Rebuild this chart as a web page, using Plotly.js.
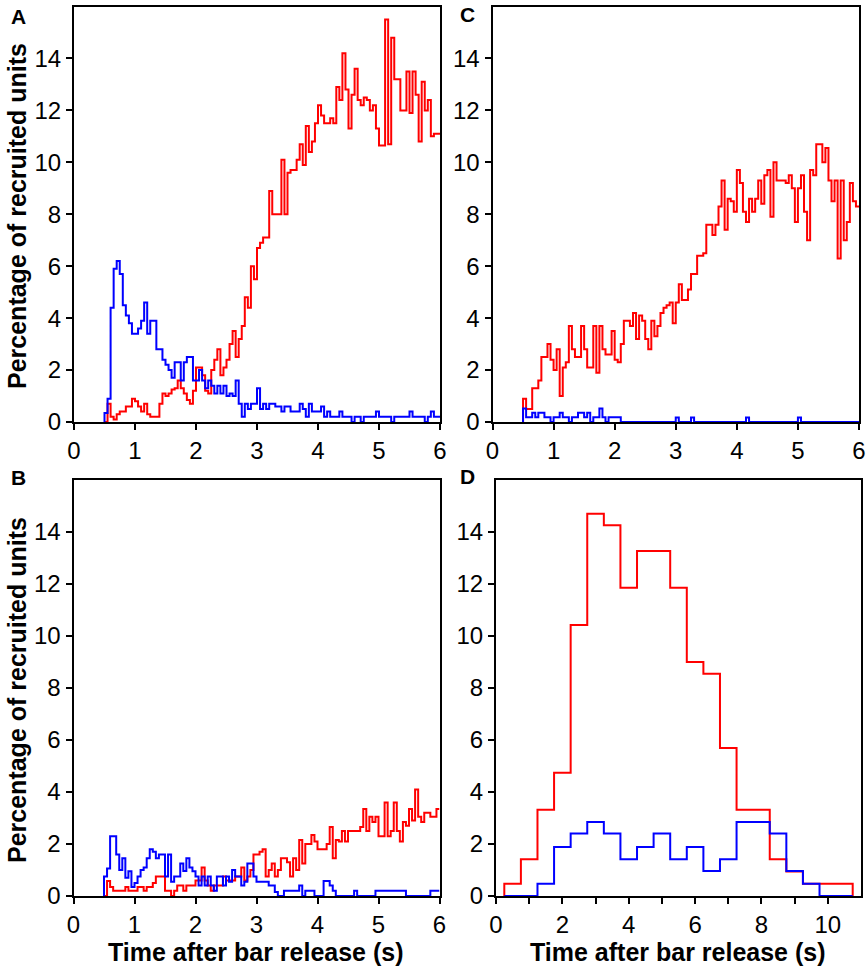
<!DOCTYPE html>
<html>
<head>
<meta charset="utf-8">
<script src="https://cdn.plot.ly/plotly-3.0.1.min.js"></script>
<style>
  html, body { margin: 0; padding: 0; background: #fff; }
  #chart { width: 866px; height: 967px; }
</style>
</head>
<body>
<div id="chart"></div>
<script>
// fine bins for panels A, B, C (seconds)
const fineStart = 0.5
const fineBin = 0.05
// coarse bins for panel D (seconds)
const coarseStart = 0.25
const coarseBin = 0.5

// panel A
const aRed = [0, 0.7, 0.2, 0.1, 0.3, 0.4, 0.4, 0.6, 0.6, 0.9,
    0.8, 0.6, 0.4, 0.7, 0.3, 0.2, 0.2, 0.2, 0.7, 1.1,
    1.0, 1.1, 1.25, 1.3, 1.6, 1.3, 1.1, 0.85, 0.7, 1.2,
    2.1, 2.1, 1.8, 1.2, 1.1, 2.0, 2.4, 2.8, 1.8, 2.1,
    2.4, 3.0, 3.5, 2.5, 3.2, 3.7, 4.8, 4.4, 6.0, 5.5,
    6.7, 6.9, 7.1, 7.1, 8.9, 8.0, 8.0, 8.0, 10.1, 8.0,
    9.6, 9.7, 9.7, 10.1, 10.7, 9.9, 11.4, 10.4, 10.8, 11.5,
    12.2, 11.8, 11.5, 11.5, 11.7, 11.5, 12.9, 12.4, 14.2, 12.8,
    11.3, 12.6, 13.6, 12.4, 12.2, 12.5, 12.4, 12.0, 12.2, 11.3,
    10.65, 10.65, 15.5, 10.7, 14.8, 13.2, 13.2, 12.0, 12.0, 13.5,
    11.9, 13.5, 12.6, 10.8, 13.1, 12.0, 12.4, 11.0, 11.1, 11.1]
const aBlue = [0.35, 0.9, 4.4, 5.9, 6.2, 5.7, 4.5, 4.1, 3.8, 3.4,
    3.4, 3.6, 3.9, 4.6, 3.4, 3.9, 3.9, 2.8, 2.8, 2.4,
    2.2, 2.0, 1.7, 2.3, 2.3, 1.6, 2.3, 2.5, 2.5, 1.6,
    1.6, 2.0, 1.6, 1.3, 1.6, 1.4, 1.1, 1.4, 1.1, 1.4,
    1.0, 1.1, 1.0, 1.6, 0.7, 0.2, 0.7, 0.5, 0.7, 0.7,
    1.3, 0.5, 0.7, 0.5, 0.7, 0.7, 0.6, 0.6, 0.4, 0.6,
    0.6, 0.4, 0.4, 0.4, 0.7, 0.5, 0.2, 0.7, 0.4, 0.4,
    0.4, 0.6, 0.2, 0.4, 0.2, 0.2, 0.2, 0.4, 0.2, 0.2,
    0.2, 0, 0.2, 0.2, 0, 0.2, 0.2, 0.2, 0.2, 0.4,
    0.2, 0.2, 0.2, 0.2, 0, 0.2, 0.2, 0.2, 0.2, 0.2,
    0.4, 0.2, 0.2, 0.2, 0.2, 0, 0.2, 0.4, 0.2, 0.2]

// panel B
const bRed = [0, 0.58, 0.35, 0.2, 0.2, 0.2, 0.2, 0.35, 0.2, 0.2,
    0.2, 0.35, 0.35, 0.2, 0.35, 0.35, 0.5, 0.75, 0.75, 0.75,
    0.2, 0.2, 0, 0.2, 0.4, 0.4, 0.2, 0.4, 0.4, 0.4,
    0.6, 0.6, 1.1, 0.6, 0.4, 0.2, 0.4, 0.4, 0.4, 0.75,
    0.6, 0.6, 0.6, 0.75, 0.75, 1.1, 0.6, 0.75, 1.0, 1.6,
    1.6, 1.7, 1.8, 0.75, 1.0, 1.25, 0.75, 1.0, 1.45, 1.45,
    1.3, 0.75, 1.45, 1.0, 2.15, 1.25, 2.0, 2.0, 2.35, 2.1,
    1.8, 1.8, 1.8, 2.0, 2.65, 1.45, 2.15, 2.1, 2.5, 2.1,
    2.5, 2.5, 2.5, 2.5, 2.65, 3.35, 2.5, 3.05, 2.85, 3.05,
    2.3, 2.3, 3.6, 2.3, 2.5, 3.6, 2.5, 2.1, 2.85, 2.7,
    3.35, 2.9, 4.1, 3.05, 2.85, 3.2, 3.2, 3.05, 3.05, 3.35]
const bBlue = [0.75, 1.06, 2.3, 2.3, 1.6, 1.0, 1.45, 0.7, 0.95, 0.35,
    0.5, 0.75, 1.0, 1.1, 1.45, 1.8, 1.7, 1.45, 1.6, 1.6,
    0.75, 1.6, 0.55, 0.75, 0.75, 1.25, 0.96, 1.45, 1.1, 0.95,
    0.75, 0.4, 0.75, 0.4, 0.75, 0.4, 0.2, 0.75, 0.75, 0.4,
    0.75, 0.55, 1.0, 0.75, 0.75, 0.4, 0.55, 1.25, 1.25, 0.75,
    0.55, 0.55, 0.55, 0.55, 0.4, 0.4, 0.15, 0, 0, 0.2,
    0.2, 0.2, 0.2, 0.2, 0.4, 0, 0.2, 0.2, 0.2, 0,
    0, 0, 0.58, 0.58, 0.4, 0.2, 0, 0, 0, 0,
    0, 0, 0.2, 0, 0, 0, 0, 0, 0, 0.2,
    0.2, 0.2, 0.2, 0.2, 0.2, 0.2, 0.2, 0.2, 0.2, 0,
    0, 0, 0, 0, 0, 0, 0, 0.2, 0.2, 0.2]

// panel C
const cRed = [0.9, 0.5, 0.5, 1.3, 1.3, 1.6, 2.5, 2.5, 3.0, 2.4,
    2.0, 2.8, 1.0, 2.1, 2.3, 3.7, 2.8, 2.5, 2.5, 3.7,
    2.8, 2.1, 2.1, 3.7, 1.9, 3.7, 2.8, 2.6, 2.6, 3.5,
    2.4, 2.3, 3.0, 3.9, 3.9, 3.7, 4.2, 3.2, 4.1, 3.9,
    3.2, 2.8, 3.9, 3.3, 3.7, 4.2, 4.4, 4.5, 4.6, 3.8,
    4.6, 5.3, 4.7, 4.7, 5.1, 5.7, 5.7, 6.4, 6.4, 6.5,
    7.6, 7.6, 7.2, 7.6, 8.3, 9.3, 7.4, 8.6, 8.5, 8.1,
    9.7, 9.2, 8.1, 7.7, 8.6, 8.1, 8.6, 9.3, 8.4, 9.5,
    9.7, 7.9, 10.0, 9.3, 9.3, 9.3, 9.2, 9.5, 9.0, 7.7,
    9.0, 9.5, 8.1, 7.0, 9.7, 9.5, 10.7, 10.7, 10.0, 10.55,
    9.3, 8.5, 9.3, 6.3, 9.3, 7.0, 7.7, 9.2, 8.5, 8.3]
const cBlue = [0.52, 0.18, 0.18, 0.36, 0.18, 0.36, 0.36, 0.18, 0.18, 0,
    0.18, 0.18, 0.36, 0.18, 0.18, 0, 0.18, 0.18, 0.36, 0.36,
    0.18, 0.36, 0, 0.18, 0.18, 0.52, 0.18, 0, 0.18, 0.18,
    0.18, 0.18, 0, 0, 0, 0, 0, 0, 0, 0,
    0, 0, 0, 0, 0, 0, 0, 0, 0, 0,
    0.17, 0, 0, 0, 0, 0.17, 0, 0, 0, 0,
    0, 0, 0, 0, 0, 0, 0, 0, 0, 0,
    0, 0, 0, 0.17, 0, 0, 0, 0, 0, 0,
    0, 0, 0, 0, 0, 0, 0, 0, 0, 0,
    0.17, 0, 0, 0, 0, 0, 0, 0, 0, 0,
    0, 0, 0, 0, 0, 0, 0, 0, 0, 0]

// panel D
const dRed = [0.47, 1.41, 3.32, 4.74, 10.42, 14.7, 14.26, 11.86, 13.27, 13.27,
    11.86, 9.0, 8.55, 5.69, 3.32, 3.32, 1.41, 0.94, 0.47, 0.47, 0.47]
const dBlue = [0, 0, 0.47, 1.88, 2.4, 2.85, 2.4, 1.41, 1.88, 2.4,
    1.41, 1.88, 0.96, 1.41, 2.85, 2.85, 2.4, 0.96, 0.47, 0, 0]

const yTicks = [0, 2, 4, 6, 8, 10, 12, 14]

window.addEventListener('DOMContentLoaded', () => {
    plotFigure()
})

// outline of a histogram; closeEnd drops the line back to zero after the last bin
function steps(start, width, vals, closeEnd) {
    let x = [start]
    let y = [0]
    vals.forEach((v, i) => {
        x.push(start + i * width)
        y.push(v)
    })
    x.push(start + vals.length * width)
    y.push(closeEnd ? 0 : vals[vals.length - 1])
    return {x: x, y: y}
}

function trace(start, width, vals, color, xa, ya, closeEnd) {
    const s = steps(start, width, vals, closeEnd)
    return {
        type: 'scatter',
        mode: 'lines',
        x: s.x,
        y: s.y,
        line: {shape: 'hv', color: color, width: 2},
        xaxis: xa,
        yaxis: ya,
        hoverinfo: 'skip'
    }
}

function plotFigure() {
    const red = '#ff0000'
    const blue = '#0000ff'
    const font = 'Liberation Sans, Arial, sans-serif'

    const data = [
        trace(fineStart, fineBin, aRed, red, 'x', 'y', false),
        trace(fineStart, fineBin, aBlue, blue, 'x', 'y', false),
        trace(fineStart, fineBin, cRed, red, 'x2', 'y2', false),
        trace(fineStart, fineBin, cBlue, blue, 'x2', 'y2', false),
        trace(fineStart, fineBin, bRed, red, 'x3', 'y3', false),
        trace(fineStart, fineBin, bBlue, blue, 'x3', 'y3', false),
        trace(coarseStart, coarseBin, dRed, red, 'x4', 'y4', true),
        trace(coarseStart, coarseBin, dBlue, blue, 'x4', 'y4', true)
    ]

    const W = 866
    const H = 967
    const px = v => v / W
    const py = v => 1 - v / H

    const common = {
        showline: true,
        linecolor: '#000',
        linewidth: 2,
        mirror: true,
        ticks: 'outside',
        ticklen: 6,
        tickwidth: 2,
        tickcolor: '#000',
        showgrid: false,
        zeroline: false,
        fixedrange: true,
        layer: 'above traces',
        tickfont: {family: font, size: 24, color: '#000'}
    }
    const xFine = Object.assign({}, common, {range: [0, 6], tickvals: [0, 1, 2, 3, 4, 5, 6]})
    const yAxis = Object.assign({}, common, {range: [0, 16], tickvals: yTicks})

    const layout = {
        width: W,
        height: H,
        margin: {l: 0, r: 0, t: 0, b: 0},
        paper_bgcolor: '#fff',
        plot_bgcolor: '#fff',
        showlegend: false,
        xaxis: Object.assign({}, xFine, {domain: [px(74), px(440)], anchor: 'y'}),
        yaxis: Object.assign({}, yAxis, {domain: [py(422), py(6.5)], anchor: 'x'}),
        xaxis2: Object.assign({}, xFine, {domain: [px(492.5), px(859)], anchor: 'y2'}),
        yaxis2: Object.assign({}, yAxis, {domain: [py(422), py(6.5)], anchor: 'x2'}),
        xaxis3: Object.assign({}, xFine, {domain: [px(73.5), px(439.5)], anchor: 'y3'}),
        yaxis3: Object.assign({}, yAxis, {domain: [py(896), py(480)], anchor: 'x3'}),
        xaxis4: Object.assign({}, common, {
            domain: [px(496), px(861)], anchor: 'y4',
            range: [0, 11], tickvals: [0, 2, 4, 6, 8, 10],
            minor: {tickvals: [1, 3, 5, 7, 9], ticks: 'outside', ticklen: 6, tickwidth: 2, tickcolor: '#000'}
        }),
        yaxis4: Object.assign({}, yAxis, {domain: [py(896), py(480)], anchor: 'x4'}),
        annotations: [
            {text: '<b>A</b>', x: px(18), y: py(16)},
            {text: '<b>C</b>', x: px(467), y: py(14)},
            {text: '<b>B</b>', x: px(18), y: py(477)},
            {text: '<b>D</b>', x: px(467), y: py(476)},
        ].map(a => Object.assign(a, {
            xref: 'paper', yref: 'paper', showarrow: false,
            xanchor: 'center', yanchor: 'middle',
            font: {family: font, size: 21, color: '#000'}
        })).concat([
            {text: '<b>Percentage of recruited units</b>', x: px(17), y: py(216), textangle: -90},
            {text: '<b>Percentage of recruited units</b>', x: px(17), y: py(690), textangle: -90},
            {text: '<b>Time after bar release (s)</b>', x: px(256), y: py(952)},
            {text: '<b>Time after bar release (s)</b>', x: px(678), y: py(952)}
        ].map(a => Object.assign(a, {
            xref: 'paper', yref: 'paper', showarrow: false,
            xanchor: 'center', yanchor: 'middle',
            font: {family: font, size: 25, color: '#000'}
        })))
    }

    Plotly.newPlot('chart', data, layout, {displayModeBar: false, staticPlot: true})
}
</script>
</body>
</html>
